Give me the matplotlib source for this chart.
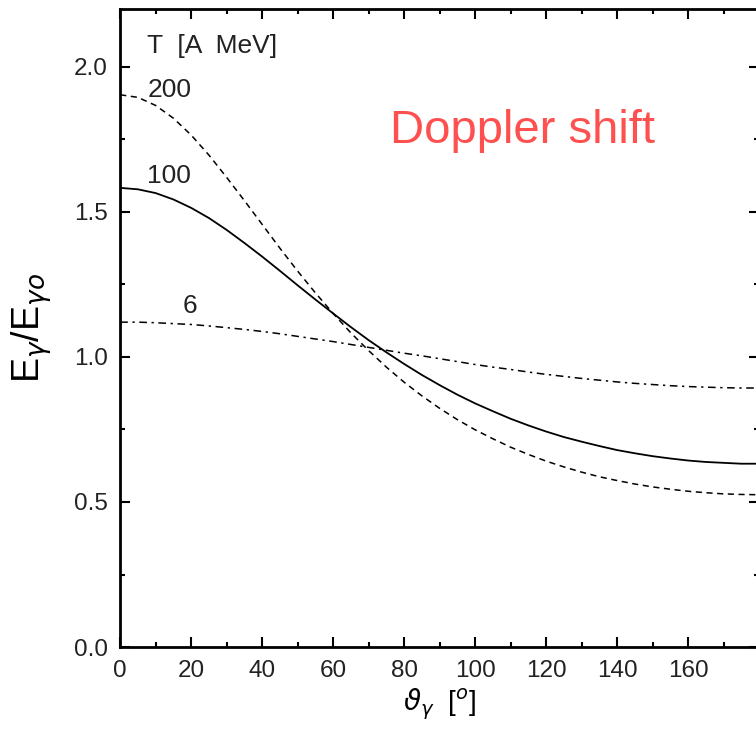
import matplotlib
matplotlib.use('Agg')
import matplotlib.pyplot as plt
from matplotlib.ticker import MultipleLocator

plt.rcParams['font.family'] = ['Liberation Sans', 'DejaVu Sans']
plt.rcParams['xtick.direction'] = 'in'
plt.rcParams['ytick.direction'] = 'in'

# angle of the gamma [deg], every 5 degrees
theta = [0, 5, 10, 15, 20, 25, 30, 35, 40, 45, 50, 55, 60, 65, 70, 75, 80, 85, 90,
         95, 100, 105, 110, 115, 120, 125, 130, 135, 140, 145, 150, 155, 160,
         165, 170, 175, 180]

# E_gamma / E_gamma0
t200 = [1.904, 1.895, 1.867, 1.823, 1.765, 1.696, 1.619, 1.539, 1.457, 1.375,
        1.296, 1.221, 1.150, 1.083, 1.022, 0.965, 0.913, 0.866, 0.823,
        0.784, 0.749, 0.718, 0.689, 0.664, 0.641, 0.621, 0.603, 0.587, 0.574,
        0.562, 0.552, 0.544, 0.537, 0.532, 0.528, 0.526, 0.525]
t100 = [1.583, 1.578, 1.565, 1.543, 1.514, 1.479, 1.438, 1.393, 1.346, 1.297,
        1.247, 1.198, 1.150, 1.103, 1.058, 1.016, 0.976, 0.938, 0.903,
        0.870, 0.840, 0.813, 0.787, 0.764, 0.743, 0.724, 0.708, 0.693, 0.679,
        0.668, 0.658, 0.650, 0.643, 0.638, 0.635, 0.632, 0.632]
t6 = [1.120, 1.120, 1.118, 1.115, 1.112, 1.107, 1.101, 1.095, 1.088, 1.080,
      1.071, 1.062, 1.053, 1.043, 1.033, 1.023, 1.013, 1.004, 0.994,
      0.984, 0.974, 0.965, 0.957, 0.948, 0.940, 0.933, 0.926, 0.920, 0.914,
      0.909, 0.905, 0.901, 0.898, 0.896, 0.894, 0.893, 0.893]

fig = plt.figure(figsize=(7.56, 7.42), dpi=100)
ax = fig.add_axes([0.159, 0.128, 0.845, 0.860])

ax.plot(theta, t200, color='black', lw=1.1, linestyle=(0, (4, 3)))
ax.plot(theta, t100, color='black', lw=1.3)
ax.plot(theta, t6, color='black', lw=1.1, linestyle=(0, (5, 3, 1.5, 3)))

ax.set_xlim(0, 180)
ax.set_ylim(0, 2.2)
ax.xaxis.set_minor_locator(MultipleLocator(10))
ax.yaxis.set_minor_locator(MultipleLocator(0.25))
ax.set_xticks([0, 20, 40, 60, 80, 100, 120, 140, 160])
ax.set_yticks([0.0, 0.5, 1.0, 1.5, 2.0])
ax.set_yticklabels(['0.0', '0.5', '1.0', '1.5', '2.0'])

for s in ax.spines.values():
    s.set_linewidth(2.0)
ax.tick_params(which='both', top=True, right=True, width=1.5, colors='black',
               labelcolor='#222222', labelsize=17.5)
ax.tick_params(which='major', length=7, pad=9)
ax.tick_params(which='minor', length=3.8)

ax.set_ylabel(r'E$_\gamma$/E$_{\gamma o}$', fontsize=27, labelpad=14)
ax.set_xlabel(r'$\vartheta_\gamma$  [$^o$]', fontsize=20, labelpad=4)

lab = dict(fontsize=19, color='#222222', va='baseline', ha='left')
ax.text(7.6, 2.048, 'T  [A  MeV]', **lab)
ax.text(7.6, 1.897, '200', **lab)
ax.text(7.6, 1.600, '100', **lab)
ax.text(17.7, 1.152, '6', **lab)

ax.text(76, 1.738, 'Doppler shift', fontsize=34, color='#FF5050',
        va='baseline', ha='left')

fig.savefig('out.png', dpi=100)
